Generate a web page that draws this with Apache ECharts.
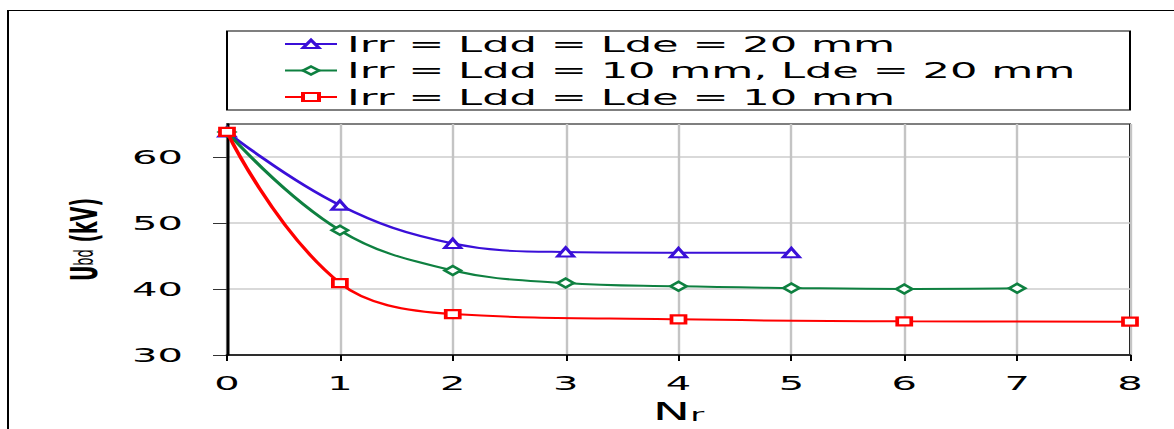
<!DOCTYPE html>
<html>
<head>
<meta charset="utf-8">
<script src="https://cdn.jsdelivr.net/npm/echarts@6/dist/echarts.min.js"></script>
<style>
html,body{margin:0;padding:0;background:#fff;overflow:hidden;width:1174px;height:429px;}
#c{width:587px;height:429px;transform:scale(2,1);transform-origin:0 0;}
</style>
</head>
<body>
<div id="c"></div>
<script>
// ---- data ----
const seriesNames = ['Irr = Ldd = Lde = 20 mm', 'Irr = Ldd = 10 mm, Lde = 20 mm', 'Irr = Ldd = Lde = 10 mm'];
const nrBlue  = [0, 1, 2, 3, 4, 5];
const ubdBlue = [63.8, 52.7, 46.9, 45.6, 45.5, 45.5];
const nrGreen  = [0, 1, 2, 3, 4, 5, 6, 7];
const ubdGreen = [63.8, 48.9, 42.8, 40.9, 40.4, 40.15, 40.0, 40.1];
const nrRed  = [0, 1, 2, 4, 6, 8];
const ubdRed = [63.8, 40.9, 36.2, 35.4, 35.1, 35.05];
const yTicks = [30, 40, 50, 60];
const xMin = 0, xMax = 8, yMin = 30, yMax = 65;

const colors = ['#3A0FD8', '#0E8040', '#FF0000'];
const symbols = ['emptyTriangle', 'emptyDiamond', 'emptyRect'];
const symSizes = [[8, 9], [8, 9], [7, 8]];
const pairs = (xs, ys) => xs.map((x, i) => [x, ys[i]]);
const seriesData = [pairs(nrBlue, ubdBlue), pairs(nrGreen, ubdGreen), pairs(nrRed, ubdRed)];

const FONT = 'DejaVu Sans';
const chart = echarts.init(document.getElementById('c'), null, {renderer: 'svg'});
chart.setOption({
  animation: false,
  backgroundColor: '#fff',
  graphic: [
    {type: 'rect', shape: {x: 4, y: 10.5, width: 640, height: 460}, style: {fill: 'none', stroke: '#000', lineWidth: 1}, silent: true, z: -10},
    {type: 'rect', shape: {x: 113.5, y: 31, width: 451.5, height: 79}, style: {fill: 'none', stroke: '#000', lineWidth: 1}, silent: true, z: -10}
  ],
  legend: {
    orient: 'vertical',
    left: 141.5,
    top: 33,
    itemWidth: 26,
    itemHeight: 10,
    itemGap: 4.5,
    padding: 0,
    textStyle: {fontFamily: FONT, fontSize: 21.6, color: '#000', lineHeight: 22},
    data: seriesNames
  },
  grid: {left: 113.5, right: 22, top: 124, bottom: 74, show: true, borderColor: '#000', borderWidth: 1, containLabel: false},
  xAxis: {
    type: 'value', min: xMin, max: xMax, interval: 1,
    name: '{n|N}{r|r}', nameLocation: 'middle', nameGap: 44,
    nameTextStyle: {rich: {n: {fontFamily: FONT, fontSize: 25, color: '#000'}, r: {fontFamily: FONT, fontSize: 17, color: '#000', padding: [6, 0, 0, 0]}}},
    axisLine: {show: true, lineStyle: {color: '#000', width: 1.5}},
    axisTick: {show: true, length: 6, lineStyle: {color: '#000', width: 1}},
    axisLabel: {fontFamily: FONT, fontSize: 20, color: '#000', margin: 18},
    splitLine: {show: true, lineStyle: {color: '#c4c4c4', width: 1.2}}
  },
  yAxis: {
    type: 'value', min: yMin, max: yMax, interval: 10,
    name: '{u|U}{s|bd}{u| (kV)}', nameLocation: 'middle', nameGap: 62,
    nameTextStyle: {rich: {u: {fontFamily: FONT, fontSize: 19, fontWeight: 'bold', color: '#000'}, s: {fontFamily: FONT, fontSize: 13, color: '#000'}}},
    axisLine: {show: true, lineStyle: {color: '#000', width: 1.5}},
    axisTick: {show: true, length: 7, customValues: yTicks, lineStyle: {color: '#333', width: 1}},
    axisLabel: {fontFamily: FONT, fontSize: 20, color: '#000', margin: 22, customValues: yTicks},
    splitLine: {show: true, lineStyle: {color: '#cccccc', width: 1.5}}
  },
  series: seriesNames.map((name, i) => ({
    name: name,
    type: 'line',
    data: seriesData[i],
    smooth: 0.4,
    symbol: symbols[i],
    symbolSize: symSizes[i],
    showAllSymbol: true,
    clip: false,
    lineStyle: {color: colors[i], width: 2},
    itemStyle: {color: colors[i], borderColor: colors[i], borderWidth: 1},
    z: 3 + i
  }))
});
</script>
</body>
</html>
